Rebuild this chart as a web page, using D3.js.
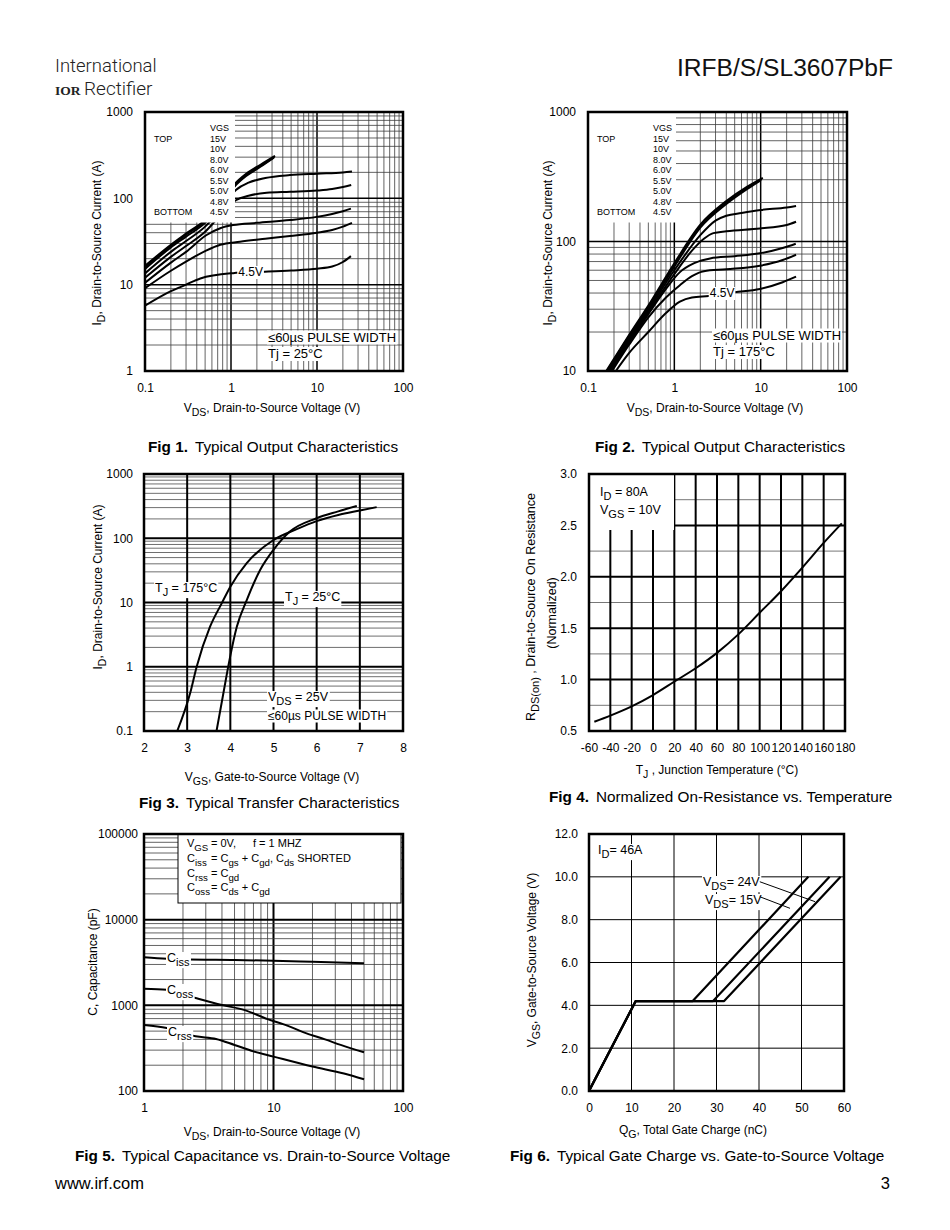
<!DOCTYPE html>
<html lang="en">
<head>
<meta charset="UTF-8">
<title>IRFB/S/SL3607PbF typical characteristics</title>
<script src="https://d3js.org/d3.v7.min.js"></script>
<style>
  body { margin: 0; background: #fff; }
  svg { display: block; font-family: "Liberation Sans", Arial, Helvetica, sans-serif; }
</style>
</head>
<body>
<svg id="page" width="950" height="1230"></svg>
<script>
// ---------- data ----------
// Fig 1: output characteristics, Tj = 25C  [VDS (V), ID (A)]
const vgsLabels = ["15V", "10V", "8.0V", "6.0V", "5.5V", "5.0V", "4.8V", "4.5V"];
const f1_15V = [[0.1,16.5],[0.2,29],[0.3,39],[0.5,56],[0.8,96],[1.1,146],[1.5,192],[2.2,245],[3.25,310]];
const f1_10V = [[0.1,16],[0.2,28],[0.3,38],[0.5,54],[0.8,93],[1.1,141],[1.5,186],[2.2,238],[3.2,302]];
const f1_8V  = [[0.1,15.2],[0.2,27],[0.3,36],[0.5,52],[0.8,90],[1.1,137],[1.5,181],[2.2,232],[3.15,296]];
const f1_6V  = [[0.1,13.5],[0.2,24],[0.3,32],[0.5,47],[0.8,80],[1.14,125],[1.6,152],[2.5,172],[4.85,186],[10,193],[20,199],[25.5,204]];
const f1_5V5 = [[0.1,12],[0.2,21],[0.3,28],[0.5,41],[0.8,68],[1.14,95],[1.6,107],[2.6,116],[4.85,119],[10,123],[15,128],[20,135],[25,143]];
const f1_5V  = [[0.1,10.5],[0.2,18],[0.3,24],[0.52,37.6],[0.75,45],[1.06,49],[2,52],[4.85,56],[9.9,61],[15,66],[20,71],[24.8,76]];
const f1_4V8 = [[0.1,9.1],[0.2,14.5],[0.3,18.5],[0.52,25],[0.75,29],[1.27,31.4],[2.5,34],[4.85,36.6],[10,40],[15,43],[20,47],[25.5,52]];
const f1_4V5 = [[0.1,5.7],[0.2,8.4],[0.3,10],[0.44,11.8],[1.06,13.6],[2,14],[5,14.6],[10,15.3],[15,16.2],[20,18.3],[24.8,21.4]];

// Fig 2: output characteristics, Tj = 175C
const f2_15V = [[0.163,10],[0.3,19],[0.5,32],[1,68],[2,135],[4,205],[7,265],[10.6,310]];
const f2_10V = [[0.166,10],[0.3,18.6],[0.5,31],[1,66],[2,132],[4,200],[7,260],[10.3,303]];
const f2_8V  = [[0.17,10],[0.3,18.2],[0.5,30.5],[1,64],[2,128],[4,195],[7,255],[10,297]];
const f2_6V  = [[0.175,10],[0.3,17.5],[0.5,29.5],[1,60],[2,112],[3,145],[4,158],[6,166],[10,175],[20,183],[25.7,188]];
const f2_5V5 = [[0.18,10],[0.3,17],[0.5,28.5],[1,56],[1.6,85],[2.2,105],[2.83,116],[4,120],[9.8,126],[20,134],[25.7,142]];
const f2_5V  = [[0.185,10],[0.3,16.5],[0.5,27.5],[0.8,43],[1.16,58],[1.7,68],[2.6,74],[5,77],[9.8,81],[18,89],[25.5,96]];
const f2_4V8 = [[0.19,10],[0.3,16],[0.5,26],[0.8,37],[1.16,46],[1.6,54],[2.2,59],[4,61],[9.8,65],[18,72],[25.7,79]];
const f2_4V5 = [[0.21,10],[0.3,13.8],[0.5,20],[0.8,28],[1.16,34.3],[1.6,37],[2.5,38],[5,40.5],[9.8,43],[18,48.5],[25.7,53.5]];

// Fig 3: transfer characteristics [VGS (V), ID (A)]
const f3_175C = [[2.77,0.1],[3.07,0.39],[3.22,1],[3.53,4.2],[3.8,9.7],[4.0,17.6],[4.38,41],[5.0,94],[5.5,135],[6,185],[6.5,230],[7,270],[7.39,305]];
const f3_25C  = [[3.68,0.1],[3.84,0.39],[3.98,1.27],[4.15,4.2],[4.38,10.9],[4.69,32],[5.0,66],[5.38,127],[6,205],[6.5,262],[6.93,318]];

// Fig 4: normalized RDS(on) vs junction temperature
const f4Temp = [-55, -40, -20, 0, 20, 40, 60, 80, 100, 120, 140, 160, 177];
const f4Rds  = [0.59, 0.65, 0.74, 0.85, 0.98, 1.11, 1.26, 1.44, 1.65, 1.86, 2.09, 2.33, 2.52];

// Fig 5: capacitance [VDS (V), C (pF)]
const f5Ciss = [[1,3650],[1.5,3500],[2,3450],[5,3380],[10,3320],[20,3230],[50,3100]];
const f5Coss = [[1,1560],[1.5,1520],[2.5,1220],[4,1010],[6,880],[9,690],[12,600],[18,470],[25,400],[33,345],[50,283]];
const f5Crss = [[1,590],[1.5,545],[2.5,435],[3.6,405],[5,345],[7,290],[10,252],[20,193],[35,160],[50,137]];

// Fig 6: gate charge [QG (nC), VGS (V)]
const f6A = [[0,0],[11,4.2],[24.4,4.2],[51.6,10]];
const f6B = [[0,0],[11,4.2],[29.2,4.2],[56.6,10]];
const f6C = [[0,0],[11,4.2],[31.8,4.2],[59.2,10]];
const f6Lead24 = [[40.2,9.77],[53.2,8.84]];
const f6Lead15 = [[40.2,9.07],[47.3,8.53]];

// tick labels
const logXTicks = [0.1, 1, 10, 100];
const f1YTicks = [1, 10, 100, 1000];
const f2YTicks = [10, 100, 1000];
const f3XTicks = [2, 3, 4, 5, 6, 7, 8];
const f3YTicks = [0.1, 1, 10, 100, 1000];
const f4XTicks = [-60, -40, -20, 0, 20, 40, 60, 80, 100, 120, 140, 160, 180];
const f4YTicks = [0.5, 1.0, 1.5, 2.0, 2.5, 3.0];
const f5XTicks = [1, 10, 100];
const f5YTicks = [100, 1000, 10000, 100000];
const f6XTicks = [0, 10, 20, 30, 40, 50, 60];
const f6YTicks = [0, 2, 4, 6, 8, 10, 12];

// ---------- helpers ----------
const svg = d3.select("#page");
let clipCount = 0;

// "V_{DS}" -> V with subscript DS
function addRich(t, str, fs) {
    const parts = str.split(/(_\{[^}]*\})/);
    let shifted = false;
    parts.forEach(p => {
        if (!p) return;
        if (p.startsWith("_{")) {
            t.append("tspan").attr("dy", fs * 0.33).attr("font-size", fs * 0.88).text(p.slice(2, -1));
            shifted = true;
        } else {
            t.append("tspan").attr("dy", shifted ? -fs * 0.33 : 0).text(p);
            shifted = false;
        }
    });
    return t;
}

function label(g, x, y, str, fs, anchor, bg) {
    const t = g.append("text").attr("x", x).attr("y", y)
        .attr("font-size", fs).attr("text-anchor", anchor || "start");
    addRich(t, str, fs);
    if (bg) {
        const b = t.node().getBBox();
        g.insert("rect", () => t.node())
            .attr("x", b.x - 1).attr("y", b.y + 1)
            .attr("width", b.width + 2).attr("height", b.height - 1)
            .attr("fill", "#fff");
    }
    return t;
}

function vTitle(x, yc, str, fs) {
    const t = svg.append("text").attr("transform", `translate(${x},${yc}) rotate(-90)`)
        .attr("text-anchor", "middle").attr("font-size", fs);
    addRich(t, str, fs);
}

function caption(x, y, num, str) {
    const t = svg.append("text").attr("x", x).attr("y", y).attr("font-size", 15.3);
    t.append("tspan").attr("font-weight", "bold").text(num);
    t.append("tspan").attr("dx", 7).text(str);
}

function panel(left, top, w, h) {
    const g = svg.append("g").attr("transform", `translate(${left},${top})`);
    const id = "clip" + (clipCount++);
    g.append("clipPath").attr("id", id).append("rect").attr("width", w).attr("height", h);
    return { g, w, h, clip: `url(#${id})` };
}

function vLines(p, xs, vals, style) {
    p.g.append("g").selectAll("line").data(vals).join("line")
        .attr("x1", d => xs(d)).attr("x2", d => xs(d))
        .attr("y1", 0).attr("y2", p.h)
        .attr("stroke", d => style(d)[0]).attr("stroke-width", d => style(d)[1]);
}

function hLines(p, ys, vals, style) {
    p.g.append("g").selectAll("line").data(vals).join("line")
        .attr("y1", d => ys(d)).attr("y2", d => ys(d))
        .attr("x1", 0).attr("x2", p.w)
        .attr("stroke", d => style(d)[0]).attr("stroke-width", d => style(d)[1]);
}

const isDecade = d => Math.abs(Math.log10(d) - Math.round(Math.log10(d))) < 1e-9;
const logStyle = d => isDecade(d) ? ["#000", 1.5] : ["#3c3c3c", 0.8];

function curves(p, xs, ys, series, width, curve) {
    const line = d3.line().x(d => xs(d[0])).y(d => ys(d[1])).curve(curve || d3.curveMonotoneX);
    p.g.append("g").attr("clip-path", p.clip)
        .selectAll("path").data(series).join("path")
        .attr("d", line).attr("fill", "none").attr("stroke", "#000")
        .attr("stroke-width", width).attr("stroke-linejoin", "round");
}

function frame(p) {
    p.g.append("rect").attr("width", p.w).attr("height", p.h)
        .attr("fill", "none").attr("stroke", "#000").attr("stroke-width", 2.5);
}

function axes(p, xs, ys, xVals, yVals, xFmt, yFmt, yPad) {
    const ax = p.g.append("g").attr("transform", `translate(0,${p.h})`)
        .call(d3.axisBottom(xs).tickValues(xVals).tickFormat(xFmt).tickSize(0).tickPadding(12));
    const ay = p.g.append("g")
        .call(d3.axisLeft(ys).tickValues(yVals).tickFormat(yFmt).tickSize(0).tickPadding(yPad));
    [ax, ay].forEach(a => {
        a.select(".domain").remove();
        a.attr("font-family", null).attr("font-size", 12);
        a.selectAll("text").attr("fill", "#000");
    });
}

// ---------- header ----------
svg.append("text").attr("x", 55).attr("y", 72).attr("font-size", 18.5)
    .attr("font-family", "Roboto, 'Open Sans', sans-serif").attr("font-weight", 300)
    .attr("fill", "#222").text("International");
svg.append("text").attr("x", 55).attr("y", 95).attr("font-size", 13.5)
    .attr("font-family", "'Liberation Serif', 'DejaVu Serif', serif").attr("font-weight", "bold")
    .attr("fill", "#222").text("IOR");
svg.append("text").attr("x", 84).attr("y", 95).attr("font-size", 19)
    .attr("font-family", "Roboto, 'Open Sans', sans-serif").attr("font-weight", 300)
    .attr("fill", "#222").text("Rectifier");
svg.append("text").attr("x", 893).attr("y", 76).attr("font-size", 24.6)
    .attr("text-anchor", "end").attr("fill", "#111").text("IRFB/S/SL3607PbF");

// ---------- Fig 1 ----------
{
    const p = panel(145, 112, 258, 259);
    const xs = d3.scaleLog().domain([0.1, 100]).range([0, p.w]);
    const ys = d3.scaleLog().domain([1, 1000]).range([p.h, 0]);
    vLines(p, xs, xs.ticks(), logStyle);
    hLines(p, ys, ys.ticks(), logStyle);
    label(p.g, 123, 229.5, "≤60µs PULSE WIDTH", 13, "start", true);
    label(p.g, 123, 246, "Tj = 25°C", 13, "start", true);
    curves(p, xs, ys, [f1_15V, f1_10V, f1_8V, f1_6V, f1_5V5, f1_5V, f1_4V8, f1_4V5], 2);
    label(p.g, xs(1.69), 164, "4.5V", 12, "middle", true);
    p.g.append("rect").attr("width", 90).attr("height", 110.5).attr("fill", "#fff");
    label(p.g, 65, 18.5, "VGS", 9);
    vgsLabels.forEach((v, i) => label(p.g, 65, 29.5 + i * 10.5, v, 9));
    label(p.g, 9, 29.5, "TOP", 9);
    label(p.g, 9, 29.5 + 7 * 10.5, "BOTTOM", 9);
    frame(p);
    axes(p, xs, ys, logXTicks, f1YTicks, String, String, 12);
    const t = svg.append("text").attr("x", 272).attr("y", 412).attr("font-size", 12).attr("text-anchor", "middle");
    addRich(t, "V_{DS}, Drain-to-Source Voltage (V)", 12);
    vTitle(101, 243, "I_{D}, Drain-to-Source Current (A)", 12);
    caption(148, 452, "Fig 1.", "Typical Output Characteristics");
}

// ---------- Fig 2 ----------
{
    const p = panel(588, 112, 259, 259);
    const xs = d3.scaleLog().domain([0.1, 100]).range([0, p.w]);
    const ys = d3.scaleLog().domain([10, 1000]).range([p.h, 0]);
    vLines(p, xs, xs.ticks(), logStyle);
    hLines(p, ys, ys.ticks(), logStyle);
    label(p.g, 125, 227.5, "≤60µs PULSE WIDTH", 13, "start", true);
    label(p.g, 125, 244, "Tj = 175°C", 13, "start", true);
    curves(p, xs, ys, [f2_15V, f2_10V, f2_8V, f2_6V, f2_5V5, f2_5V, f2_4V8, f2_4V5], 2);
    label(p.g, xs(3.57), 185, "4.5V", 12, "middle", true);
    p.g.append("rect").attr("width", 88).attr("height", 110.5).attr("fill", "#fff");
    label(p.g, 65, 18.5, "VGS", 9);
    vgsLabels.forEach((v, i) => label(p.g, 65, 29.5 + i * 10.5, v, 9));
    label(p.g, 9, 29.5, "TOP", 9);
    label(p.g, 9, 29.5 + 7 * 10.5, "BOTTOM", 9);
    frame(p);
    axes(p, xs, ys, logXTicks, f2YTicks, String, String, 12);
    const t = svg.append("text").attr("x", 715).attr("y", 412).attr("font-size", 12).attr("text-anchor", "middle");
    addRich(t, "V_{DS}, Drain-to-Source Voltage (V)", 12);
    vTitle(552, 243, "I_{D}, Drain-to-Source Current (A)", 12);
    caption(595, 452, "Fig 2.", "Typical Output Characteristics");
}

// ---------- Fig 3 ----------
{
    const p = panel(144, 474, 259, 257);
    const xs = d3.scaleLinear().domain([2, 8]).range([0, p.w]);
    const ys = d3.scaleLog().domain([0.1, 1000]).range([p.h, 0]);
    hLines(p, ys, ys.ticks(), d => isDecade(d) ? ["#000", 2] : ["#4a4a4a", 0.8]);
    vLines(p, xs, [3, 4, 5, 6, 7], () => ["#000", 2]);
    label(p.g, 11, 118, "T_{J} = 175°C", 12.5, "start", true);
    label(p.g, 141, 127, "T_{J} = 25°C", 12.5, "start", true);
    label(p.g, 124, 227, "V_{DS} = 25V", 12.5, "start", true);
    label(p.g, 124, 245.5, "≤60µs PULSE WIDTH", 12, "start", true);
    curves(p, xs, ys, [f3_175C, f3_25C], 2);
    frame(p);
    axes(p, xs, ys, f3XTicks, f3YTicks, String, String, 11);
    const t = svg.append("text").attr("x", 272).attr("y", 781).attr("font-size", 12).attr("text-anchor", "middle");
    addRich(t, "V_{GS}, Gate-to-Source Voltage (V)", 12);
    vTitle(102, 587, "I_{D}, Drain-to-Source Current  (A)", 12);
    caption(139, 808, "Fig 3.", "Typical Transfer Characteristics");
}

// ---------- Fig 4 ----------
{
    const p = panel(589, 474, 256, 257);
    const xs = d3.scaleLinear().domain([-60, 180]).range([0, p.w]);
    const ys = d3.scaleLinear().domain([0.5, 3.0]).range([p.h, 0]);
    hLines(p, ys, [0.75, 1.0, 1.25, 1.5, 1.75, 2.0, 2.25, 2.5, 2.75],
        d => (Math.round(d * 4) % 2 === 0) ? ["#000", 2] : ["#777", 1]);
    vLines(p, xs, f4XTicks.slice(1, -1), () => ["#000", 2]);
    p.g.append("rect").attr("width", 85).attr("height", 56).attr("fill", "#fff");
    label(p.g, 11, 22, "I_{D} = 80A", 12.5);
    label(p.g, 11, 40, "V_{GS} = 10V", 12.5);
    curves(p, xs, ys, [f4Temp.map((t, i) => [t, f4Rds[i]])], 2);
    frame(p);
    axes(p, xs, ys, f4XTicks, f4YTicks, String, d3.format(".1f"), 12);
    const t = svg.append("text").attr("x", 717).attr("y", 774).attr("font-size", 12).attr("text-anchor", "middle");
    addRich(t, "T_{J} , Junction Temperature (°C)", 12);
    vTitle(534.5, 607, "R_{DS(on)} , Drain-to-Source On Resistance", 12.5);
    vTitle(556, 613, "(Normalized)", 12.5);
    caption(549, 802, "Fig 4.", "Normalized On-Resistance vs. Temperature");
}

// ---------- Fig 5 ----------
{
    const p = panel(144, 834, 259, 257);
    const xs = d3.scaleLog().domain([1, 100]).range([0, p.w]);
    const ys = d3.scaleLog().domain([100, 100000]).range([p.h, 0]);
    const st = d => isDecade(d) ? ["#000", 2] : ["#3c3c3c", 0.8];
    vLines(p, xs, xs.ticks(), st);
    hLines(p, ys, ys.ticks(), st);
    curves(p, xs, ys, [f5Ciss, f5Coss, f5Crss], 2);
    label(p.g, 23, 128, "C_{iss}", 12.5, "start", true);
    label(p.g, 23, 160, "C_{oss}", 12.5, "start", true);
    label(p.g, 24, 202, "C_{rss}", 12.5, "start", true);
    p.g.append("rect").attr("x", 34).attr("y", 0).attr("width", 223).attr("height", 69)
        .attr("fill", "#fff").attr("stroke", "#000").attr("stroke-width", 1);
    label(p.g, 43, 13, "V_{GS}", 11);
    label(p.g, 67, 13, "= 0V,", 11);
    label(p.g, 109, 13, "f = 1 MHZ", 11);
    label(p.g, 43, 28, "C_{iss}", 11);
    label(p.g, 67, 28, "= C_{gs} + C_{gd},  C_{ds} SHORTED", 11);
    label(p.g, 43, 43, "C_{rss}", 11);
    label(p.g, 67, 43, "= C_{gd}", 11);
    label(p.g, 43, 57, "C_{oss}", 11);
    label(p.g, 67, 57, "= C_{ds} + C_{gd}", 11);
    frame(p);
    axes(p, xs, ys, f5XTicks, f5YTicks, String, String, 6);
    const t = svg.append("text").attr("x", 272).attr("y", 1136).attr("font-size", 12).attr("text-anchor", "middle");
    addRich(t, "V_{DS}, Drain-to-Source Voltage (V)", 12);
    vTitle(97, 962, "C, Capacitance (pF)", 12);
    caption(75, 1161, "Fig 5.", "Typical Capacitance vs. Drain-to-Source Voltage");
}

// ---------- Fig 6 ----------
{
    const p = panel(589, 834, 255, 257);
    const xs = d3.scaleLinear().domain([0, 60]).range([0, p.w]);
    const ys = d3.scaleLinear().domain([0, 12]).range([p.h, 0]);
    vLines(p, xs, [10, 20, 30, 40, 50], () => ["#000", 1]);
    hLines(p, ys, [2, 4, 6, 8, 10], () => ["#000", 1]);
    label(p.g, 9, 20, "I_{D}= 46A", 12.5, "start", true);
    label(p.g, 114, 52, "V_{DS}= 24V", 12.5, "start", true);
    label(p.g, 116, 70, "V_{DS}= 15V", 12.5, "start", true);
    const lead = d3.line().x(d => xs(d[0])).y(d => ys(d[1]));
    p.g.selectAll(".lead").data([f6Lead24, f6Lead15]).join("path")
        .attr("d", lead).attr("fill", "none").attr("stroke", "#000").attr("stroke-width", 1);
    curves(p, xs, ys, [f6A, f6B, f6C], 2.2, d3.curveLinear);
    frame(p);
    axes(p, xs, ys, f6XTicks, f6YTicks, String, d3.format(".1f"), 11);
    const t = svg.append("text").attr("x", 693).attr("y", 1134).attr("font-size", 12).attr("text-anchor", "middle");
    addRich(t, "Q_{G},  Total Gate Charge (nC)", 12);
    vTitle(536, 960, "V_{GS}, Gate-to-Source Voltage (V)", 12);
    caption(510, 1161, "Fig 6.", "Typical Gate Charge vs. Gate-to-Source Voltage");
}

// ---------- footer ----------
svg.append("text").attr("x", 55).attr("y", 1189).attr("font-size", 16.5).text("www.irf.com");
svg.append("text").attr("x", 890).attr("y", 1189).attr("font-size", 16.5).attr("text-anchor", "end").text("3");
</script>
</body>
</html>
